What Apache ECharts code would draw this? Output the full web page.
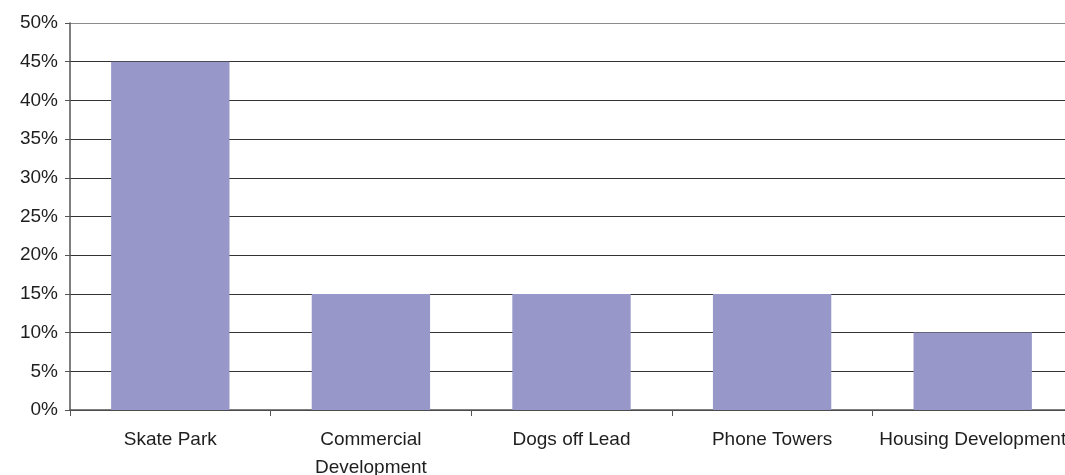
<!DOCTYPE html>
<html>
<head>
<meta charset="utf-8">
<style>
  html, body { margin: 0; padding: 0; background: #ffffff; }
  #chart { width: 1065px; height: 475px; }
</style>
<script src="https://cdn.jsdelivr.net/npm/echarts@6/dist/echarts.min.js"></script>
</head>
<body>
<div id="chart"></div>
<script>
// Issues of concern, share of responses (%)
const categories = ['Skate Park', 'Commercial\nDevelopment', 'Dogs off Lead', 'Phone Towers', 'Housing Development'];
const shares = [45, 15, 15, 15, 10];

const chart = echarts.init(document.getElementById('chart'), null, { renderer: 'canvas' });

const labelFont = {
  color: '#1e1e1e',
  fontFamily: 'Liberation Sans, Arial, sans-serif',
  fontSize: 19
};

// dark grid lines, with a lighter line along the top edge of the plot
const gridColors = ['#333333', '#333333', '#333333', '#333333', '#333333',
                    '#333333', '#333333', '#333333', '#333333', '#333333', '#8c8c8c'];

chart.setOption({
  animation: false,
  backgroundColor: '#ffffff',
  grid: {
    left: 70, top: 23, width: 1003, height: 387,
    containLabel: false,
    outerBoundsMode: 'none'
  },
  xAxis: {
    type: 'category',
    data: categories,
    axisLine: { show: true, lineStyle: { color: '#555555', width: 1.5 } },
    axisTick: { show: true, length: 6, alignWithLabel: false, lineStyle: { color: '#555555' } },
    axisLabel: Object.assign({ margin: 16, lineHeight: 28, interval: 0, hideOverlap: false }, labelFont),
    splitLine: { show: false }
  },
  yAxis: {
    type: 'value',
    min: 0,
    max: 50,
    interval: 5,
    axisLine: { show: true, lineStyle: { color: '#555555', width: 1.5 } },
    axisTick: { show: true, length: 5, lineStyle: { color: '#555555' } },
    axisLabel: Object.assign({ margin: 12, formatter: '{value}%' }, labelFont),
    splitLine: { show: true, lineStyle: { color: gridColors, width: 1 } }
  },
  series: [{
    type: 'bar',
    data: shares,
    barWidth: '59%',
    itemStyle: { color: '#9797c9' }
  }]
});
</script>
</body>
</html>
